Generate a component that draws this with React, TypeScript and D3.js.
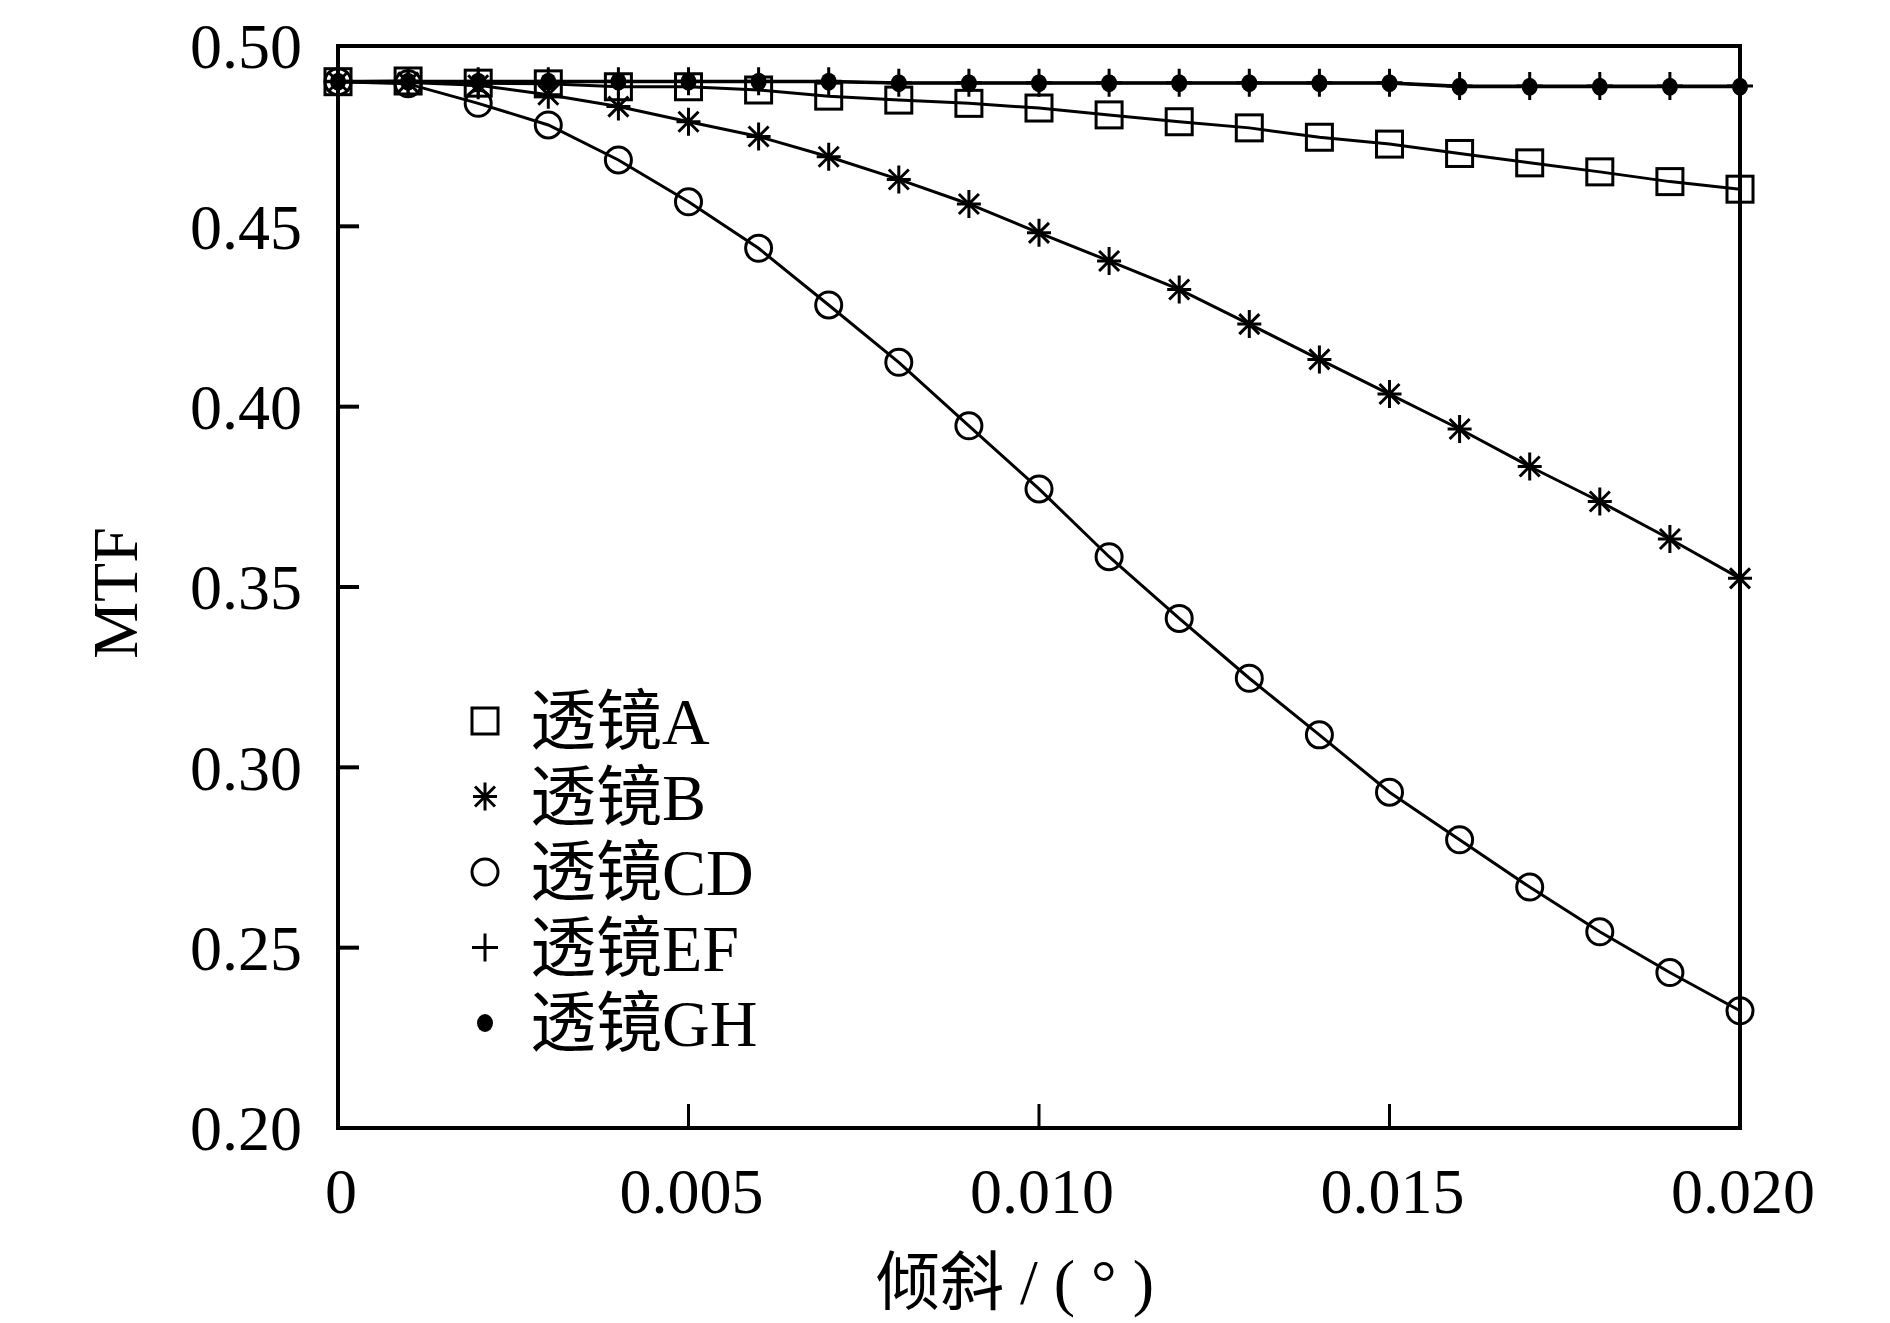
import React, { useEffect } from 'react';
import * as d3 from 'd3';

// tilt angle (degrees) on the x axis
const tilt = [
  0, 0.001, 0.002, 0.003, 0.004, 0.005, 0.006, 0.007, 0.008, 0.009, 0.01,
  0.011, 0.012, 0.013, 0.014, 0.015, 0.016, 0.017, 0.018, 0.019, 0.02,
];

// MTF for each lens group
const mtfA = [
  0.4901, 0.4903, 0.4897, 0.4895, 0.4887, 0.4887, 0.4878, 0.4861, 0.485, 0.4841, 0.4828,
  0.4809, 0.479, 0.4773, 0.4747, 0.4728, 0.4702, 0.4676, 0.4651, 0.4624, 0.4603,
];
const mtfB = [
  0.4901, 0.4899, 0.4891, 0.4865, 0.4832, 0.479, 0.4749, 0.4693, 0.463, 0.4562, 0.4482,
  0.4404, 0.4325, 0.4229, 0.4131, 0.4035, 0.3938, 0.3834, 0.3737, 0.3633, 0.3524,
];
const mtfCD = [
  0.4901, 0.4895, 0.4841, 0.4781, 0.4684, 0.4568, 0.4439, 0.4282, 0.4123, 0.3947, 0.3772,
  0.3584, 0.3413, 0.3247, 0.309, 0.2931, 0.2799, 0.2668, 0.2544, 0.2431, 0.2325,
];
const mtfEF = [
  0.4902, 0.4902, 0.4902, 0.4902, 0.4902, 0.4902, 0.4902, 0.4902, 0.4898, 0.4898, 0.4898,
  0.4898, 0.4898, 0.4898, 0.4898, 0.4898, 0.4889, 0.4889, 0.4889, 0.4889, 0.4889,
];
const mtfGH = [
  0.4901, 0.4901, 0.4901, 0.4901, 0.4901, 0.4901, 0.4901, 0.4901, 0.4897, 0.4897, 0.4897,
  0.4897, 0.4897, 0.4897, 0.4897, 0.4897, 0.4887, 0.4887, 0.4887, 0.4887, 0.4887,
];

const seriesNames = ['透镜A', '透镜B', '透镜CD', '透镜EF', '透镜GH'];
const seriesMarkers = ['square', 'asterisk', 'circle', 'plus', 'dot'];
const seriesValues = [mtfA, mtfB, mtfCD, mtfEF, mtfGH];

const xTicks = [0, 0.005, 0.01, 0.015, 0.02];
const xTickLabels = ['0', '0.005', '0.010', '0.015', '0.020'];
const yTicks = [0.2, 0.25, 0.3, 0.35, 0.4, 0.45, 0.5];

const W = 1890;
const H = 1323;
const FONT = "'Liberation Serif', 'Times New Roman', 'Noto Sans CJK SC', serif";

const x = d3.scaleLinear().domain([0, 0.02]).range([338, 1740]);
const y = d3.scaleLinear().domain([0.2, 0.5]).range([1128, 46]);

function Marker({ kind, cx, cy }: { kind: string; cx: number; cy: number }) {
  const s = 13; // half size
  if (kind === 'square')
    return <rect x={cx - s} y={cy - s} width={2 * s} height={2 * s} fill="none" stroke="#000" strokeWidth={3} />;
  if (kind === 'circle')
    return <ellipse cx={cx} cy={cy} rx={s} ry={s} fill="none" stroke="#000" strokeWidth={3} />;
  if (kind === 'dot')
    return <ellipse cx={cx} cy={cy} rx={8} ry={9} fill="#000" />;
  if (kind === 'plus')
    return (
      <path d={`M${cx},${cy - 14}V${cy + 14}M${cx - 13},${cy}H${cx + 13}`} stroke="#000" strokeWidth={3} fill="none" />
    );
  // asterisk: plus + cross
  const d = 10;
  return (
    <path
      d={`M${cx},${cy - 14}V${cy + 14}M${cx - 12},${cy}H${cx + 12}M${cx - d},${cy - d}L${cx + d},${cy + d}M${cx - d},${cy + d}L${cx + d},${cy - d}`}
      stroke="#000"
      strokeWidth={3}
      fill="none"
    />
  );
}

export default function App() {
  useEffect(() => {
    document.body.style.margin = '0';
  }, []);

  const line = d3
    .line<number>()
    .x((_, i) => x(tilt[i]))
    .y((v) => y(v));

  const legendX = 485;
  const legendTextX = 530;
  const legendY0 = 721;
  const legendStep = 75.5;

  return (
    <svg width={W} height={H} style={{ display: 'block', background: '#fff' }} fontFamily={FONT}>
      <rect x={0} y={0} width={W} height={H} fill="#fff" />

      {/* frame */}
      <rect x={x(0)} y={y(0.5)} width={x(0.02) - x(0)} height={y(0.2) - y(0.5)} fill="none" stroke="#000" strokeWidth={4} />

      {/* y ticks + labels */}
      {yTicks.map((t) => (
        <g key={`y${t}`}>
          <line x1={x(0)} x2={x(0) + 21} y1={y(t)} y2={y(t)} stroke="#000" strokeWidth={4} />
          <text x={302} y={y(t)} dy="0.35em" textAnchor="end" fontSize={64}>
            {t.toFixed(2)}
          </text>
        </g>
      ))}

      {/* x ticks + labels */}
      {xTicks.map((t, i) => (
        <g key={`x${t}`}>
          <line x1={x(t)} x2={x(t)} y1={y(0.2)} y2={y(0.2) - 24} stroke="#000" strokeWidth={3} />
          <text x={x(t) + 3} y={1213} textAnchor="middle" fontSize={64}>
            {xTickLabels[i]}
          </text>
        </g>
      ))}

      {/* axis titles */}
      <text x={1015} y={1282} dy="0.35em" textAnchor="middle" fontSize={64}>
        倾斜 / ( ° )
      </text>
      <text transform="translate(115,593) rotate(-90)" dy="0.35em" textAnchor="middle" fontSize={64}>
        MTF
      </text>

      {/* series lines */}
      {seriesValues.map((vals, k) => (
        <path key={`l${k}`} d={line(vals) ?? ''} fill="none" stroke="#000" strokeWidth={3} />
      ))}

      {/* series markers */}
      {seriesValues.map((vals, k) => (
        <g key={`m${k}`}>
          {vals.map((v, i) => (
            <Marker key={i} kind={seriesMarkers[k]} cx={x(tilt[i])} cy={y(v)} />
          ))}
        </g>
      ))}

      {/* legend */}
      {seriesNames.map((name, k) => {
        const ly = legendY0 + k * legendStep;
        return (
          <g key={`lg${k}`}>
            <Marker kind={seriesMarkers[k]} cx={legendX} cy={ly} />
            <text x={legendTextX} y={ly} dy="0.35em" fontSize={66}>
              {name}
            </text>
          </g>
        );
      })}
    </svg>
  );
}
